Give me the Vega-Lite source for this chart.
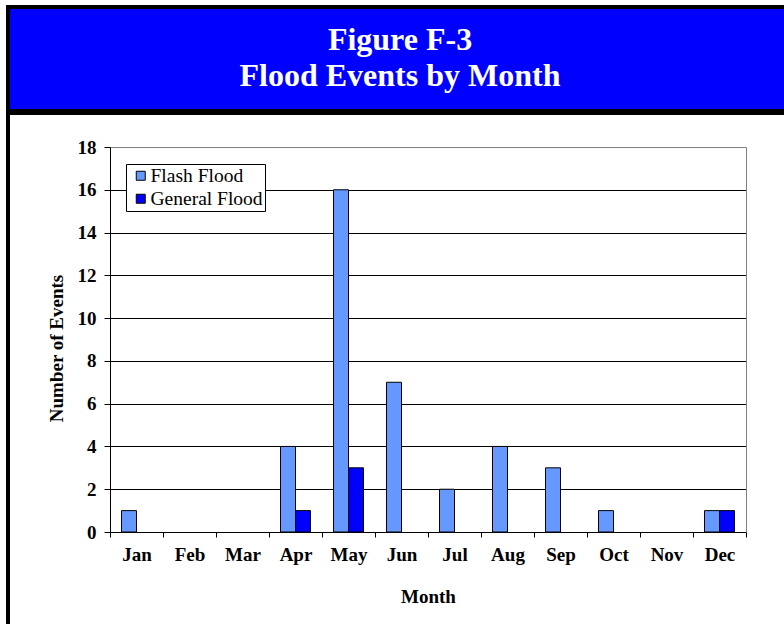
{
  "$schema": "https://vega.github.io/schema/vega-lite/v6.json",
  "padding": {"left": 6, "top": 5, "right": 0, "bottom": 0},
  "background": "white",
  "config": {"concat": {"spacing": -4}, "font": "Liberation Serif"},
  "datasets": {
    "header": [{"t": "Figure F-3\nFlood Events by Month"}],
    "floods": [
      {"month": "Jan", "series": "Flash Flood", "count": 1},
      {"month": "Jan", "series": "General Flood", "count": 0},
      {"month": "Feb", "series": "Flash Flood", "count": 0},
      {"month": "Feb", "series": "General Flood", "count": 0},
      {"month": "Mar", "series": "Flash Flood", "count": 0},
      {"month": "Mar", "series": "General Flood", "count": 0},
      {"month": "Apr", "series": "Flash Flood", "count": 4},
      {"month": "Apr", "series": "General Flood", "count": 1},
      {"month": "May", "series": "Flash Flood", "count": 16},
      {"month": "May", "series": "General Flood", "count": 3},
      {"month": "Jun", "series": "Flash Flood", "count": 7},
      {"month": "Jun", "series": "General Flood", "count": 0},
      {"month": "Jul", "series": "Flash Flood", "count": 2},
      {"month": "Jul", "series": "General Flood", "count": 0},
      {"month": "Aug", "series": "Flash Flood", "count": 4},
      {"month": "Aug", "series": "General Flood", "count": 0},
      {"month": "Sep", "series": "Flash Flood", "count": 3},
      {"month": "Sep", "series": "General Flood", "count": 0},
      {"month": "Oct", "series": "Flash Flood", "count": 1},
      {"month": "Oct", "series": "General Flood", "count": 0},
      {"month": "Nov", "series": "Flash Flood", "count": 0},
      {"month": "Nov", "series": "General Flood", "count": 0},
      {"month": "Dec", "series": "Flash Flood", "count": 1},
      {"month": "Dec", "series": "General Flood", "count": 1}
    ]
  },
  "vconcat": [
    {
      "data": {"name": "header"},
      "width": 784,
      "height": 104,
      "view": {"fill": "#0000FF", "stroke": "black", "strokeWidth": 4},
      "mark": {"type": "text", "lineBreak": "\n", "font": "Liberation Serif", "fontWeight": "bold", "fontSize": 32, "color": "white", "lineHeight": 36, "baseline": "middle", "align": "center", "dy": -19},
      "encoding": {"text": {"field": "t", "type": "nominal"}}
    },
    {
      "data": {"name": "floods"},
      "width": 784,
      "height": 520,
      "view": {"fill": "white", "stroke": "black", "strokeWidth": 4},
      "resolve": {"axis": {"y": "independent"}},
      "layer": [
        {
          "transform": [{"filter": "datum.count > 0"}],
          "mark": {"type": "bar", "stroke": "black", "strokeWidth": 1},
          "encoding": {
            "x": {
              "field": "month", "type": "nominal",
              "sort": ["Jan","Feb","Mar","Apr","May","Jun","Jul","Aug","Sep","Oct","Nov","Dec"],
              "scale": {"domain": ["Jan","Feb","Mar","Apr","May","Jun","Jul","Aug","Sep","Oct","Nov","Dec"], "range": [102, 738], "paddingInner": 0, "paddingOuter": 0},
              "axis": {
                "offset": -101, "title": "Month", "labelAngle": 0, "tickBand": "extent",
                "domainColor": "black", "tickColor": "black", "tickSize": 5, "grid": false,
                "labelFont": "Liberation Serif", "labelFontSize": 19, "labelFontWeight": "bold", "labelColor": "black", "labelPadding": 8,
                "titleFont": "Liberation Serif", "titleFontSize": 19, "titleFontWeight": "bold", "titleColor": "black", "titlePadding": 23
              }
            },
            "xOffset": {"field": "series", "type": "nominal", "sort": ["Flash Flood", "General Flood"], "scale": {"domain": ["Flash Flood", "General Flood"], "paddingInner": 0, "paddingOuter": 0.7667}},
            "y": {
              "field": "count", "type": "quantitative",
              "scale": {"domain": [0, 18], "range": [419, 34], "nice": false},
              "axis": {
                "offset": -102, "values": [0, 2, 4, 6, 8, 10, 12, 14, 16, 18], "title": "Number of Events",
                "grid": true, "gridColor": {"condition": {"test": "datum.value === 18", "value": "#808080"}, "value": "black"}, "gridOpacity": 1,
                "domainColor": "black", "tickColor": "black", "tickSize": 6,
                "labelFont": "Liberation Serif", "labelFontSize": 19, "labelFontWeight": "bold", "labelColor": "black", "labelPadding": 8,
                "titleFont": "Liberation Serif", "titleFontSize": 19, "titleFontWeight": "bold", "titleColor": "black", "titlePadding": 11, "titleY": 235
              }
            },
            "color": {
              "field": "series", "type": "nominal",
              "scale": {"domain": ["Flash Flood", "General Flood"], "range": ["#6699FF", "#0000FF"]},
              "legend": {
                "orient": "none", "legendX": 118, "legendY": 157, "title": null,
                "strokeColor": "black", "fillColor": "white", "padding": 2, "cornerRadius": 0,
                "symbolType": "square", "symbolSize": 81, "symbolStrokeColor": "black", "symbolStrokeWidth": 1, "symbolOffset": 3,
                "labelFont": "Liberation Serif", "labelFontSize": 19.5, "labelColor": "black", "labelOffset": 0, "rowPadding": 2, "labelLimit": 300
              }
            }
          }
        },
        {
          "mark": {"type": "rule", "opacity": 0},
          "encoding": {
            "y": {
              "field": "count", "type": "quantitative",
              "axis": {"orient": "right", "offset": -46, "labels": false, "ticks": false, "grid": false, "title": null, "domainColor": "#808080", "domainWidth": 1}
            }
          }
        }
      ]
    }
  ]
}
